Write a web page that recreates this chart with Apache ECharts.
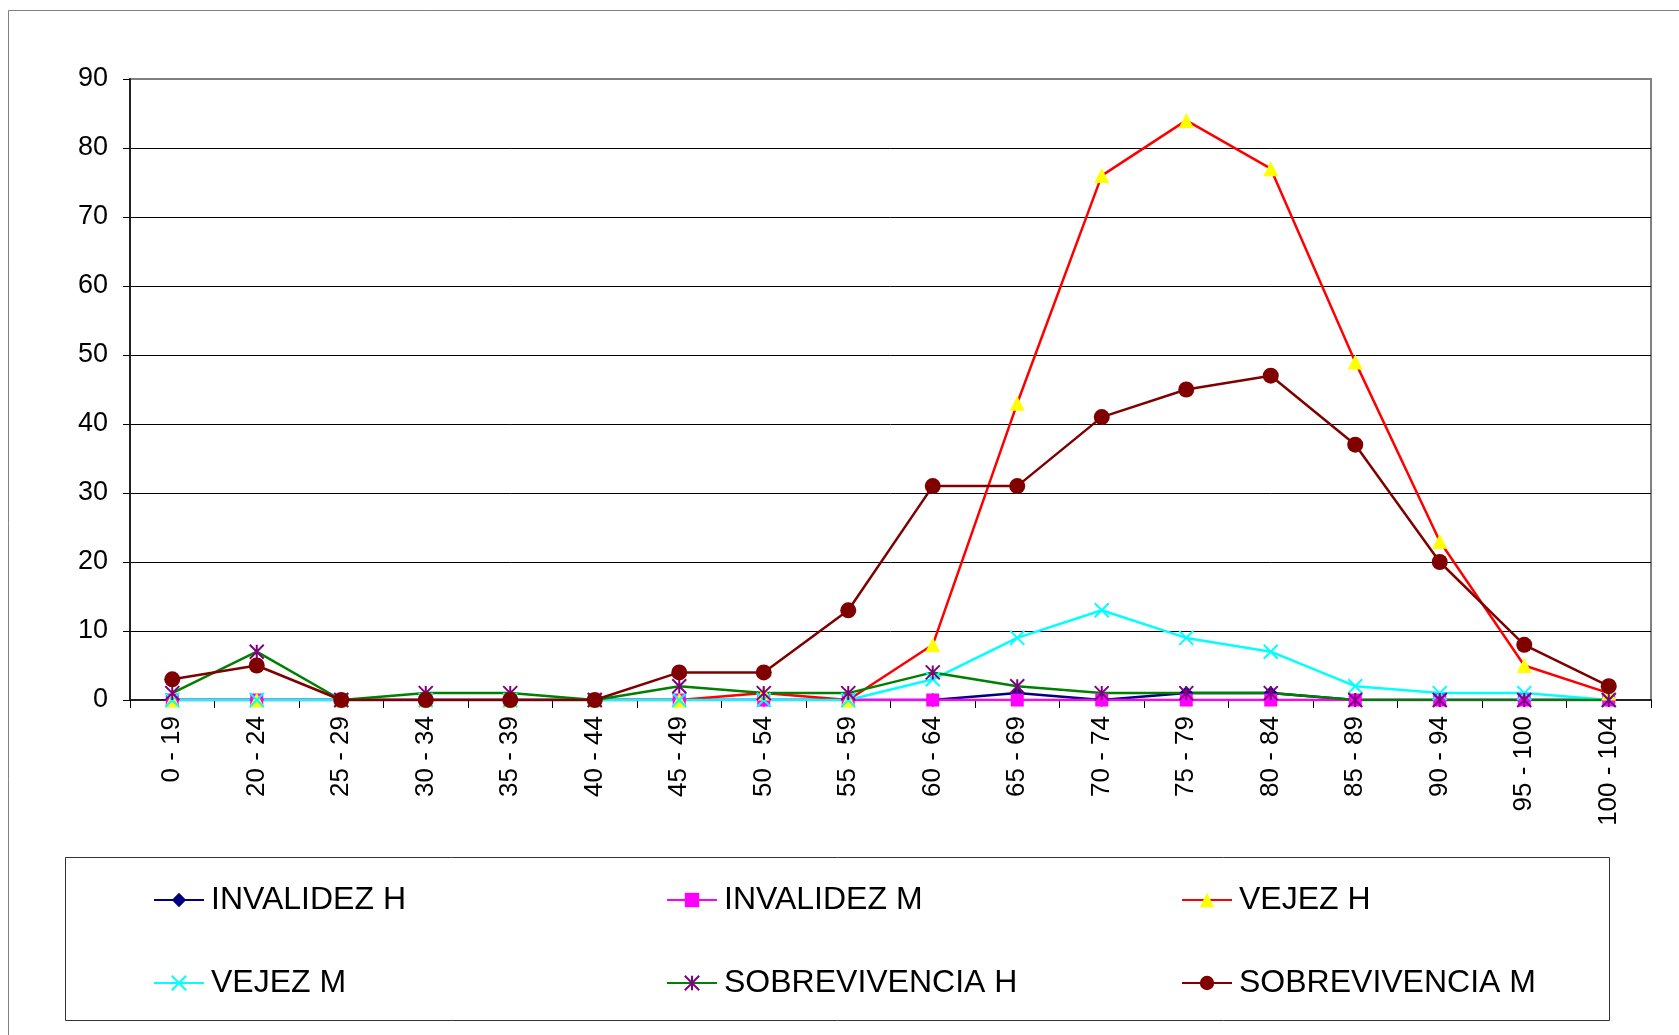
<!DOCTYPE html>
<html>
<head>
<meta charset="utf-8">
<script src="https://cdn.jsdelivr.net/npm/echarts@6/dist/echarts.min.js"></script>
<style>
  html, body { margin: 0; padding: 0; background: #fff; }
  #chart { width: 1679px; height: 1035px; }
</style>
</head>
<body>
<div id="chart"></div>
<script>
// grupos de edad
var categorias = ['0 - 19', '20 - 24', '25 - 29', '30 - 34', '35 - 39', '40 - 44', '45 - 49', '50 - 54', '55 - 59',
  '60 - 64', '65 - 69', '70 - 74', '75 - 79', '80 - 84', '85 - 89', '90 - 94', '95 - 100', '100 - 104'];

var invalidezH = [0, 0, 0, 0, 0, 0, 0, 0, 0, 0, 1, 0, 1, 1, 0, 0, 0, 0];
var invalidezM = [0, 0, 0, 0, 0, 0, 0, 0, 0, 0, 0, 0, 0, 0, 0, 0, 0, 0];
var vejezH = [0, 0, 0, 0, 0, 0, 0, 1, 0, 8, 43, 76, 84, 77, 49, 23, 5, 1];
var vejezM = [0, 0, 0, 0, 0, 0, 0, 0, 0, 3, 9, 13, 9, 7, 2, 1, 1, 0];
var sobrevivenciaH = [1, 7, 0, 1, 1, 0, 2, 1, 1, 4, 2, 1, 1, 1, 0, 0, 0, 0];
var sobrevivenciaM = [3, 5, 0, 0, 0, 0, 4, 4, 13, 31, 31, 41, 45, 47, 37, 20, 8, 2];

var yTicks = [0, 10, 20, 30, 40, 50, 60, 70, 80, 90];

var fuente = '"Liberation Sans", Arial, sans-serif';
var simboloX = 'path://M0,0L10,10M10,0L0,10';
var simboloAsterisco = 'path://M0,0L10,10M10,0L0,10M5,0L5,10';

function serie(nombre, datos, linea, simbolo, tam, relleno, borde) {
  return {
    name: nombre,
    type: 'line',
    data: datos,
    symbol: simbolo,
    symbolSize: tam,
    lineStyle: { color: linea, width: 2.5 },
    itemStyle: { color: relleno, borderColor: borde || relleno, borderWidth: borde ? 2 : 0 },
    emphasis: { disabled: true }
  };
}

// posiciones de la leyenda (2 filas x 3 columnas)
function leyenda(nombre, x, y) {
  return {
    data: [nombre],
    left: x,
    top: y,
    padding: 0,
    itemWidth: 50,
    itemHeight: 18,
    itemGap: 0,
    selectedMode: false,
    textStyle: { fontFamily: fuente, fontSize: 32, color: '#000', padding: [0, 0, 0, 2] }
  };
}

var chart = echarts.init(document.getElementById('chart'));

var option = {
  animation: false,
  backgroundColor: '#fff',
  graphic: [
    { type: 'rect', shape: { x: 8.5, y: 10.5, width: 1720, height: 1100 }, style: { fill: 'none', stroke: '#808080', lineWidth: 1 } },
    { type: 'rect', shape: { x: 65.5, y: 857.5, width: 1544, height: 163 }, style: { fill: 'none', stroke: '#333', lineWidth: 1 } }
  ],
  grid: {
    left: 130, top: 79, right: 28, bottom: 335,
    show: true, borderColor: '#808080', borderWidth: 2, backgroundColor: '#fff'
  },
  legend: [
    leyenda('INVALIDEZ H', 153, 884),
    leyenda('INVALIDEZ M', 666, 884),
    leyenda('VEJEZ H', 1181, 884),
    leyenda('VEJEZ M', 153, 967),
    leyenda('SOBREVIVENCIA H', 666, 967),
    leyenda('SOBREVIVENCIA M', 1181, 967)
  ],
  xAxis: {
    type: 'category',
    data: categorias,
    boundaryGap: true,
    axisLine: { lineStyle: { color: '#222', width: 2 } },
    axisTick: { show: true, length: 8, lineStyle: { color: '#000' } },
    axisLabel: { rotate: 90, margin: 16, interval: 0, fontFamily: fuente, fontSize: 26, color: '#000' }
  },
  yAxis: {
    type: 'value',
    min: yTicks[0],
    max: yTicks[yTicks.length - 1],
    interval: 10,
    axisLine: { show: true, lineStyle: { color: '#222', width: 2 } },
    axisTick: { show: true, length: 7, lineStyle: { color: '#000' } },
    axisLabel: { margin: 22, fontFamily: fuente, fontSize: 27, color: '#000' },
    splitLine: { show: true, showMaxLine: false, lineStyle: { color: '#000', width: 1 } }
  },
  series: [
    serie('INVALIDEZ H', invalidezH, '#000080', 'diamond', 14, '#000080'),
    serie('INVALIDEZ M', invalidezM, '#FF00FF', 'rect', 13, '#FF00FF'),
    serie('VEJEZ H', vejezH, '#FF0000', 'triangle', 15, '#FFFF00'),
    serie('VEJEZ M', vejezM, '#00FFFF', simboloX, 14, 'none', '#00FFFF'),
    serie('SOBREVIVENCIA H', sobrevivenciaH, '#008000', simboloAsterisco, 14, 'none', '#800080'),
    serie('SOBREVIVENCIA M', sobrevivenciaM, '#800000', 'circle', 16, '#800000')
  ]
};

chart.setOption(option);
</script>
</body>
</html>
